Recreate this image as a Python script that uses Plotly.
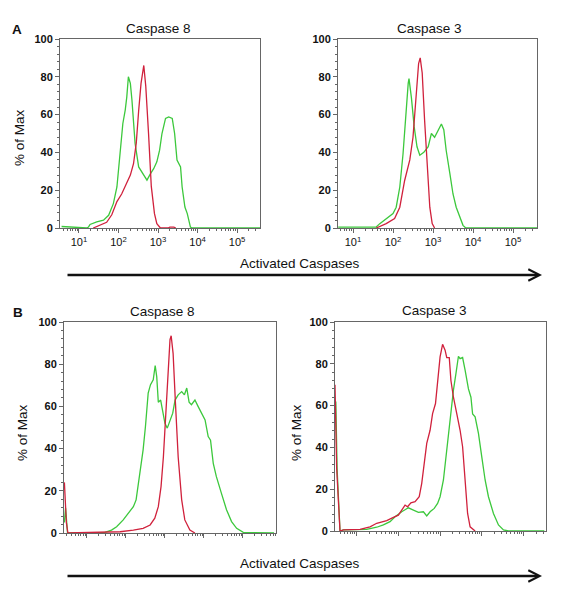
import math
import plotly.graph_objects as go

# ---------------- data (x = log10 fluorescence intensity, y = % of Max) ----------------
a8_green_x = [0.56, 1.20, 1.24, 1.28, 1.45, 1.62, 1.75, 1.87, 1.96, 2.04, 2.11, 2.17, 2.21, 2.25, 2.30, 2.34, 2.38,
              2.42, 2.51, 2.59, 2.72, 2.81, 2.89, 2.97, 3.04, 3.10, 3.19, 3.27, 3.36, 3.42, 3.48, 3.57, 3.61,
              3.68, 3.74, 3.82, 3.86, 5.6]
a8_green_y = [0.8, 0, 0.5, 1.9, 3.2, 4.1, 6.7, 12.9, 21.7, 37.6, 55.3, 62.4, 69.4, 80.0, 76.5, 67.7, 55.3,
              44.7, 32.3, 29.7, 25.3, 28.8, 31.4, 35.0, 41.2, 50.0, 58.0, 58.8, 58.0, 50.0, 35.9, 32.3, 21.7,
              11.1, 7.6, 0.5, 0, 0]
a8_red_x = [1.36, 1.53, 1.70, 1.83, 1.96, 2.08, 2.21, 2.30, 2.38, 2.45, 2.51, 2.57, 2.64, 2.69, 2.76, 2.83,
            2.91, 2.97, 3.06, 3.25, 3.30, 3.40, 3.45]
a8_red_y = [0, 1.4, 3.0, 7.0, 14.0, 18.0, 23.5, 28.0, 34.0, 45.0, 62.0, 76.5, 86.0, 75.0, 50.0, 22.0,
            7.6, 2.3, 0, 0, 0.5, 0.5, 0]

a3_green_x = [0.63, 1.58, 1.67, 1.83, 2.00, 2.08, 2.17, 2.25, 2.32, 2.38, 2.40, 2.46, 2.53, 2.60, 2.67, 2.77,
              2.88, 2.96, 3.04, 3.13, 3.21, 3.27, 3.33, 3.42, 3.50, 3.58, 3.67, 3.75, 3.82, 5.6]
a3_green_y = [0.5, 0.5, 2.3, 5.0, 7.6, 11.0, 21.7, 39.0, 62.0, 76.5, 79.0, 69.0, 53.5, 43.0, 38.5, 40.0,
              43.0, 50.0, 48.0, 52.0, 55.0, 52.0, 41.0, 29.0, 18.0, 11.0, 6.0, 1.4, 0, 0]
a3_red_x = [1.58, 1.83, 2.04, 2.17, 2.29, 2.42, 2.50, 2.58, 2.64, 2.68, 2.73, 2.79, 2.86, 2.92, 2.98, 3.04]
a3_red_y = [0, 2.3, 5.0, 11.0, 25.0, 36.0, 48.0, 69.0, 87.0, 90.0, 82.0, 57.0, 29.0, 11.0, 2.3, 0]

b8_green_x = [0.42, 0.45, 0.50, 1.46, 1.63, 1.76, 1.93, 2.06, 2.19, 2.26, 2.32, 2.38, 2.44, 2.50, 2.57, 2.63,
              2.70, 2.75, 2.79, 2.83, 2.89, 2.94, 3.00, 3.06, 3.13, 3.20, 3.26, 3.34, 3.43, 3.50, 3.56, 3.62,
              3.68, 3.77, 3.85, 3.94, 4.03, 4.11, 4.17, 4.24, 4.32, 4.45, 4.58, 4.71, 4.84, 5.01, 5.8]
b8_green_y = [5.0, 12.0, 0, 0.3, 1.4, 3.0, 6.2, 9.3, 12.5, 15.7, 23.6, 31.5, 39.4, 50.5, 66.3, 70.3,
              72.6, 79.4, 74.0, 62.0, 63.0, 58.0, 52.0, 49.7, 53.6, 56.8, 63.0, 65.5, 67.0, 65.5, 68.7, 62.0,
              60.8, 63.0, 60.0, 56.8, 53.6, 45.7, 44.0, 33.0, 26.7, 18.8, 11.0, 5.4, 2.2, 0.3, 0]
b8_red_x = [0.42, 0.47, 0.51, 1.63, 1.85, 2.19, 2.44, 2.62, 2.74, 2.83, 2.90, 2.96, 3.02, 3.07, 3.13, 3.16,
            3.21, 3.27, 3.34, 3.43, 3.51, 3.64, 3.77]
b8_red_y = [24.0, 5.0, 0, 0.3, 0.6, 1.4, 2.2, 3.8, 7.0, 12.5, 22.0, 36.0, 56.8, 77.4, 91.6, 93.5,
            85.0, 61.5, 36.0, 15.7, 6.2, 1.4, 0]

b3_green_x = [0.50, 0.53, 0.60, 0.68, 1.24, 1.48, 1.64, 1.80, 1.92, 2.08, 2.24, 2.36, 2.48, 2.60, 2.68, 2.76,
              2.86, 2.94, 3.00, 3.08, 3.14, 3.20, 3.26, 3.32, 3.38, 3.44, 3.48, 3.54, 3.60, 3.68, 3.74, 3.78,
              3.84, 3.92, 4.00, 4.08, 4.16, 4.28, 4.40, 4.52, 4.64, 5.5]
b3_green_y = [62.0, 30.0, 0, 0.5, 0.8, 1.8, 2.9, 4.5, 6.8, 9.2, 11.1, 10.0, 8.9, 9.2, 7.2, 9.2,
              10.8, 13.2, 16.4, 24.4, 35.5, 46.7, 57.8, 67.4, 75.3, 83.6, 82.5, 83.0, 77.0, 68.0, 64.0, 56.0,
              54.6, 46.7, 35.5, 24.4, 16.4, 8.4, 2.9, 0.5, 0, 0]
b3_red_x = [0.48, 0.52, 0.60, 0.68, 1.08, 1.32, 1.48, 1.56, 1.72, 1.88, 2.00, 2.08, 2.16, 2.22, 2.30, 2.40,
            2.50, 2.56, 2.62, 2.68, 2.76, 2.82, 2.89, 2.94, 3.00, 3.06, 3.12, 3.16, 3.22, 3.26, 3.32, 3.40,
            3.48, 3.54, 3.60, 3.66, 3.72, 3.84]
b3_red_y = [70.0, 30.0, 0, 0.5, 0.8, 2.0, 3.7, 4.1, 5.0, 6.5, 7.6, 10.0, 12.4, 11.6, 13.5, 14.0,
            16.4, 22.8, 32.3, 41.9, 48.2, 56.2, 61.0, 72.0, 83.3, 89.3, 86.5, 83.0, 83.0, 72.0, 64.0, 56.2,
            48.2, 40.3, 22.8, 8.4, 2.0, 0]

decades = [1, 2, 3, 4, 5]
decade_labels = ["10<sup>%d</sup>" % d for d in decades]
y_ticks = [0, 20, 40, 60, 80, 100]

GREEN = "#3cc83c"
RED = "#d0213c"
AXC = "#666666"
FONT = "Liberation Sans, Arial, sans-serif"

W, H = 562, 599

def px(x):
    return x / W

def py(y):
    return 1 - y / H

panels = [
    dict(gx=a8_green_x, gy=a8_green_y, rx=a8_red_x, ry=a8_red_y, xd=(60, 260), yd=(39, 228), xr=(0.52, 5.58), lab=True),
    dict(gx=a3_green_x, gy=a3_green_y, rx=a3_red_x, ry=a3_red_y, xd=(338, 537), yd=(39, 228), xr=(0.625, 5.6), lab=True),
    dict(gx=b8_green_x, gy=b8_green_y, rx=b8_red_x, ry=b8_red_y, xd=(64, 276), yd=(322, 533), xr=(0.41, 5.85), lab=False),
    dict(gx=b3_green_x, gy=b3_green_y, rx=b3_red_x, ry=b3_red_y, xd=(335, 546), yd=(322, 531), xr=(0.48, 5.54), lab=False),
]

fig = go.Figure()
layout = dict(
    width=W, height=H, autosize=False, margin=dict(l=0, r=0, t=0, b=0, pad=0, autoexpand=False),
    paper_bgcolor="white", plot_bgcolor="white", showlegend=False,
    font=dict(family=FONT, color="#111"),
)

for i, p in enumerate(panels, start=1):
    xa = "x" if i == 1 else "x%d" % i
    ya = "y" if i == 1 else "y%d" % i
    fig.add_trace(go.Scatter(x=p["gx"], y=p["gy"], mode="lines", line=dict(color=GREEN, width=1.3),
                             xaxis=xa, yaxis=ya, hoverinfo="skip"))
    fig.add_trace(go.Scatter(x=p["rx"], y=p["ry"], mode="lines", line=dict(color=RED, width=1.3),
                             xaxis=xa, yaxis=ya, hoverinfo="skip"))
    lo, hi = p["xr"]
    minor_vals = []
    for d in range(0, 6):
        for k in range(2, 10):
            v = d + math.log10(k)
            if lo <= v <= hi:
                minor_vals.append(v)
    xkey = "xaxis" if i == 1 else "xaxis%d" % i
    ykey = "yaxis" if i == 1 else "yaxis%d" % i
    xax = dict(
        domain=[px(p["xd"][0]), px(p["xd"][1])], anchor=ya, range=[lo, hi], automargin=False,
        showgrid=False, zeroline=False, showline=True, mirror=True, linecolor=AXC, linewidth=1,
        ticks="outside", ticklen=4, tickcolor=AXC, tickmode="array", tickvals=decades,
        showticklabels=p["lab"], tickfont=dict(size=11, family=FONT, color="#111"),
        minor=dict(tickmode="array", tickvals=minor_vals, ticks="outside", ticklen=2, tickcolor=AXC),
    )
    if p["lab"]:
        xax["ticktext"] = decade_labels
    layout[xkey] = xax
    layout[ykey] = dict(
        domain=[py(p["yd"][1]), py(p["yd"][0])], anchor=xa, range=[0, 100], automargin=False,
        showgrid=False, zeroline=False, showline=True, mirror=True, linecolor=AXC, linewidth=1,
        ticks="outside", ticklen=4, tickcolor=AXC, tickmode="array", tickvals=y_ticks,
        tickfont=dict(size=11, family=FONT, color="#111", weight="bold"),
        minor=dict(dtick=4, ticks="outside", ticklen=2, tickcolor=AXC),
    )

fig.update_layout(**layout)

ann = []
def text(x, y, t, size=13.5, bold=False, angle=0):
    ann.append(dict(xref="paper", yref="paper", x=px(x), y=py(y), text=t, showarrow=False,
                    xanchor="center", yanchor="middle", textangle=angle,
                    font=dict(size=size, family=FONT, color="#111", weight="bold" if bold else "normal")))

text(158, 28, "Caspase 8")
text(429, 28, "Caspase 3")
text(162, 311, "Caspase 8")
text(434, 310, "Caspase 3")
text(17, 29, "A", size=13.5, bold=True)
text(18, 312, "B", size=13.5, bold=True)
text(20, 138, "% of Max", angle=-90)
text(22, 433, "% of Max", angle=-90)
text(296, 433, "% of Max", angle=-90)
text(300, 263, "Activated Caspases")
text(300, 563, "Activated Caspases")

for yy in (275, 576):
    ann.append(dict(xref="paper", yref="paper", axref="pixel", ayref="pixel",
                    x=px(542), y=py(yy), ax=-(542 - 66), ay=0, text="", showarrow=True,
                    arrowhead=5, arrowsize=0.85, arrowwidth=2.6, arrowcolor="#111"))

fig.update_layout(annotations=ann)
fig.write_html("out.html", config={"displayModeBar": False},
               post_script="document.body.style.margin='0';document.body.style.overflow='hidden';")
